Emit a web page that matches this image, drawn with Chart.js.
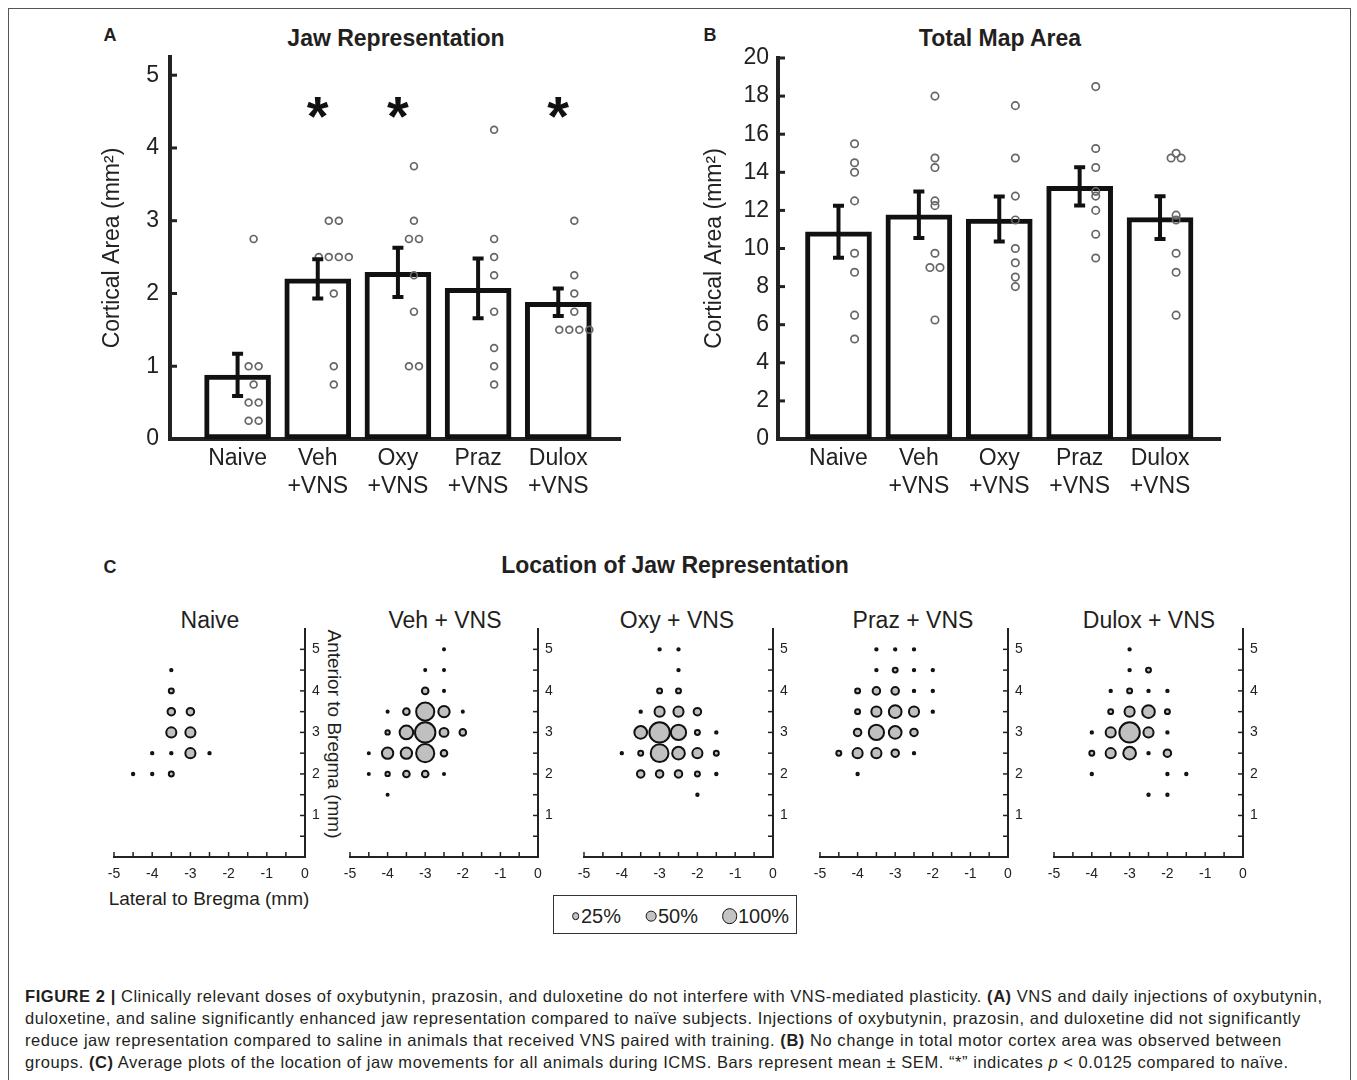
<!DOCTYPE html>
<html>
<head>
<meta charset="utf-8">
<title>Figure 2</title>
<script src="https://cdn.jsdelivr.net/npm/chart.js@4.4.1/dist/chart.umd.min.js"></script>
<style>
  html, body { margin: 0; padding: 0; background: #fff; }
  body { width: 1357px; height: 1080px; position: relative; overflow: hidden;
         font-family: "Liberation Sans", Arial, sans-serif; color: #231f20; }
  canvas { position: absolute; }
  .frame { position: absolute; left: 8px; top: 8px; width: 1341px; height: 1100px; border: 1px solid #555; }
  .t { position: absolute; transform: translate(-50%, -50%); white-space: nowrap; }
  .letter { font-weight: bold; font-size: 18px; }
  .title { font-weight: bold; font-size: 23px; }
  .sub { font-size: 23px; }
  .axt { font-size: 19px; }
  .legend { position: absolute; left: 553px; top: 895px; width: 242px; height: 37px; border: 1.5px solid #333; }
  .dot { position: absolute; box-sizing: border-box; border: 1.5px solid #111; background: #c3c3c3; border-radius: 50%; transform: translate(-50%, -50%); }
  .lt { position: absolute; font-size: 20px; transform: translateY(-50%); }
  .caption { position: absolute; left: 25px; top: 985px; font-size: 16.5px; letter-spacing: 0.55px;
             line-height: 22px; white-space: nowrap; }
</style>
</head>
<body>
<div class="frame"></div>

<div class="t letter" style="left:110px; top:35px;">A</div>
<div class="t title" style="left:396px; top:38px;">Jaw Representation</div>
<div class="t letter" style="left:710px; top:35px;">B</div>
<div class="t title" style="left:1000px; top:38px;">Total Map Area</div>
<div class="t letter" style="left:110px; top:567px;">C</div>
<div class="t title" style="left:675px; top:565px;">Location of Jaw Representation</div>

<canvas id="jaw" width="540" height="480" style="left:90px; top:29px;"></canvas>
<canvas id="map" width="540" height="480" style="left:690px; top:30px;"></canvas>

<div id="siteTitles"></div>
<div class="t axt" style="left:334px; top:734px; transform:translate(-50%,-50%) rotate(90deg);">Anterior to Bregma (mm)</div>
<div class="t axt" style="left:209px; top:899px;">Lateral to Bregma (mm)</div>

<div class="legend"></div>
<div class="dot" style="left:575.5px; top:916px; width:7.7px; height:7.7px;"></div>
<div class="lt" style="left:581px; top:916px;">25%</div>
<div class="dot" style="left:651.3px; top:916px; width:10.7px; height:10.7px;"></div>
<div class="lt" style="left:658px; top:916px;">50%</div>
<div class="dot" style="left:729.5px; top:916px; width:15.7px; height:15.7px;"></div>
<div class="lt" style="left:738px; top:916px;">100%</div>

<div class="caption">
<b>FIGURE 2 |</b> Clinically relevant doses of oxybutynin, prazosin, and duloxetine do not interfere with VNS-mediated plasticity. <b>(A)</b> VNS and daily injections of oxybutynin,<br>
duloxetine, and saline significantly enhanced jaw representation compared to naïve subjects. Injections of oxybutynin, prazosin, and duloxetine did not significantly<br>
reduce jaw representation compared to saline in animals that received VNS paired with training. <b>(B)</b> No change in total motor cortex area was observed between<br>
groups. <b>(C)</b> Average plots of the location of jaw movements for all animals during ICMS. Bars represent mean ± SEM. “*” indicates <i>p</i> &lt; 0.0125 compared to naïve.
</div>

<script>
// --- data ---
const groupLabels = [["Naive"], ["Veh", "+VNS"], ["Oxy", "+VNS"], ["Praz", "+VNS"], ["Dulox", "+VNS"]];

// A: jaw representation (mm2)
const jawMean = [0.88, 2.2, 2.29, 2.07, 1.88];
const jawSem = [0.29, 0.27, 0.34, 0.41, 0.19];
const jawSig = [null, 4.6, 4.6, null, 4.6];
const jawPoints = [
  [2.75, 1, 1, 0.75, 0.5, 0.5, 0.25, 0.25],
  [3, 3, 2.5, 2.5, 2.5, 2.5, 2, 1, 0.75],
  [3.75, 3, 2.75, 2.75, 2.25, 1.75, 1, 1],
  [4.25, 2.75, 2.5, 2.25, 1.75, 1.25, 1, 0.75],
  [3, 2.25, 2, 1.75, 1.5, 1.5, 1.5, 1.5]
];
const jawTicks = [0, 1, 2, 3, 4, 5];

// B: total map area (mm2)
const mapMean = [10.88, 11.77, 11.55, 13.26, 11.62];
const mapSem = [1.36, 1.22, 1.18, 1.0, 1.12];
const mapPoints = [
  [15.5, 14.5, 14, 12.5, 9.75, 8.75, 6.5, 5.25],
  [18, 14.75, 14.25, 12.5, 12.25, 9.75, 9, 9, 6.25],
  [17.5, 14.75, 12.75, 11.5, 10, 9.25, 8.5, 8],
  [18.5, 15.25, 14.25, 13, 12.75, 12, 10.75, 9.5],
  [15, 14.75, 14.75, 11.75, 11.5, 9.75, 8.75, 6.5]
];
const mapTicks = [0, 2, 4, 6, 8, 10, 12, 14, 16, 18, 20];

// C: jaw sites [lateral mm, anterior mm, % of animals]
const siteTitles = ["Naive", "Veh + VNS", "Oxy + VNS", "Praz + VNS", "Dulox + VNS"];
const sitesNaive = [
  [-3.5, 4.5, 12.5], [-3.5, 4, 25], [-3.5, 3.5, 37.5], [-3, 3.5, 37.5], [-3.5, 3, 50], [-3, 3, 50],
  [-4, 2.5, 12.5], [-3.5, 2.5, 12.5], [-3, 2.5, 50], [-2.5, 2.5, 12.5],
  [-4.5, 2, 12.5], [-4, 2, 12.5], [-3.5, 2, 25]
];
const sitesVeh = [
  [-2.5, 5, 11], [-3, 4.5, 11], [-2.5, 4.5, 11], [-3, 4, 33], [-2.5, 4, 11],
  [-4, 3.5, 11], [-3.5, 3.5, 33], [-3, 3.5, 89], [-2.5, 3.5, 56], [-2, 3.5, 11],
  [-4, 3, 22], [-3.5, 3, 67], [-3, 3, 100], [-2.5, 3, 44], [-2, 3, 33],
  [-4.5, 2.5, 11], [-4, 2.5, 56], [-3.5, 2.5, 56], [-3, 2.5, 89], [-2.5, 2.5, 33],
  [-4.5, 2, 11], [-4, 2, 22], [-3.5, 2, 33], [-3, 2, 33], [-2.5, 2, 11], [-4, 1.5, 11]
];
const sitesOxy = [
  [-3, 5, 12.5], [-2.5, 5, 12.5], [-2.5, 4.5, 12.5], [-3, 4, 25], [-2.5, 4, 25],
  [-3.5, 3.5, 12.5], [-3, 3.5, 50], [-2.5, 3.5, 50], [-2, 3.5, 37.5],
  [-3.5, 3, 62.5], [-3, 3, 100], [-2.5, 3, 75], [-2, 3, 25], [-1.5, 3, 12.5],
  [-4, 2.5, 12.5], [-3.5, 2.5, 25], [-3, 2.5, 87.5], [-2.5, 2.5, 62.5], [-2, 2.5, 50], [-1.5, 2.5, 25],
  [-3.5, 2, 37.5], [-3, 2, 37.5], [-2.5, 2, 37.5], [-2, 2, 25], [-1.5, 2, 12.5], [-2, 1.5, 12.5]
];
const sitesPraz = [
  [-3.5, 5, 12.5], [-3, 5, 12.5], [-2.5, 5, 12.5],
  [-3.5, 4.5, 12.5], [-3, 4.5, 25], [-2.5, 4.5, 12.5], [-2, 4.5, 12.5],
  [-4, 4, 25], [-3.5, 4, 37.5], [-3, 4, 37.5], [-2.5, 4, 12.5], [-2, 4, 12.5],
  [-4, 3.5, 25], [-3.5, 3.5, 50], [-3, 3.5, 62.5], [-2.5, 3.5, 50], [-2, 3.5, 12.5],
  [-4, 3, 37.5], [-3.5, 3, 75], [-3, 3, 62.5], [-2.5, 3, 37.5],
  [-4.5, 2.5, 25], [-4, 2.5, 50], [-3.5, 2.5, 50], [-3, 2.5, 37.5], [-2.5, 2.5, 12.5],
  [-4, 2, 12.5]
];
const sitesDulox = [
  [-3, 5, 12.5], [-3, 4.5, 12.5], [-2.5, 4.5, 25],
  [-3.5, 4, 12.5], [-3, 4, 25], [-2.5, 4, 12.5], [-2, 4, 12.5],
  [-3.5, 3.5, 25], [-3, 3.5, 50], [-2.5, 3.5, 62.5], [-2, 3.5, 25],
  [-4, 3, 12.5], [-3.5, 3, 50], [-3, 3, 100], [-2.5, 3, 50], [-2, 3, 12.5],
  [-4, 2.5, 25], [-3.5, 2.5, 50], [-3, 2.5, 62.5], [-2.5, 2.5, 12.5], [-2, 2.5, 37.5],
  [-4, 2, 12.5], [-2, 2, 12.5], [-1.5, 2, 12.5], [-2.5, 1.5, 12.5], [-2, 1.5, 12.5]
];
const lateralTicks = [-5, -4.5, -4, -3.5, -3, -2.5, -2, -1.5, -1, -0.5, 0];
const anteriorTicks = [0.5, 1, 1.5, 2, 2.5, 3, 3.5, 4, 4.5, 5];

// --- setup ---
Chart.defaults.font.family = '"Liberation Sans", Arial, sans-serif';
Chart.defaults.color = '#222';
Chart.defaults.animation = false;

// tick marks that point into the plot
const innerTicks = {
  id: 'innerTicks',
  afterDatasetsDraw(chart, args, o) {
    const ctx = chart.ctx;
    ctx.save();
    ctx.strokeStyle = o.color;
    ctx.lineWidth = o.width;
    o.axes.forEach(id => {
      const s = chart.scales[id];
      s.ticks.forEach(t => {
        const p = s.getPixelForValue(t.value);
        ctx.beginPath();
        if (s.isHorizontal()) { ctx.moveTo(p, s.top); ctx.lineTo(p, s.top - o.length); }
        else if (s.position === 'left') { ctx.moveTo(s.right, p); ctx.lineTo(s.right + o.length, p); }
        else { ctx.moveTo(s.left, p); ctx.lineTo(s.left - o.length, p); }
        ctx.stroke();
      });
    });
    ctx.restore();
  }
};

// error bars + significance stars
function errorBars(mean, sem, sig) {
  return {
    id: 'errorBars',
    afterDatasetsDraw(chart) {
      const { ctx, scales: { x, y } } = chart;
      ctx.save();
      ctx.strokeStyle = '#111';
      ctx.lineWidth = 4;
      mean.forEach((m, i) => {
        const px = x.getPixelForValue(i + 1);
        const top = y.getPixelForValue(m + sem[i]);
        const bot = y.getPixelForValue(m - sem[i]);
        ctx.beginPath();
        ctx.moveTo(px, top); ctx.lineTo(px, bot);
        ctx.moveTo(px - 5.5, top); ctx.lineTo(px + 5.5, top);
        ctx.moveTo(px - 5.5, bot); ctx.lineTo(px + 5.5, bot);
        ctx.stroke();
      });
      if (sig) {
        ctx.fillStyle = '#111';
        ctx.font = 'bold 56px "Liberation Sans", Arial, sans-serif';
        ctx.textAlign = 'center';
        ctx.textBaseline = 'alphabetic';
        sig.forEach((s, i) => {
          if (s == null) return;
          ctx.fillText('*', x.getPixelForValue(i + 1), y.getPixelForValue(s) + 31);
        });
      }
      ctx.restore();
    }
  };
}

// repeated values sit side by side
function spread(vals, step) {
  const count = {}, seen = {};
  vals.forEach(v => { count[v] = (count[v] || 0) + 1; });
  return vals.map(v => {
    seen[v] = (seen[v] || 0) + 1;
    return { off: (seen[v] - 1 - (count[v] - 1) / 2) * step, y: v };
  });
}

function barPanel(id, mean, sem, points, sig, yTicks, yMax, xMin, xMax, g) {
  const dots = [];
  points.forEach((vals, i) => spread(vals, 0.125).forEach(p => dots.push({ x: i + 1.2 + p.off, y: p.y })));

  new Chart(document.getElementById(id), {
    type: 'bar',
    data: {
      datasets: [
        { type: 'scatter', data: dots, pointRadius: g.dot, borderWidth: 1.7,
          borderColor: '#666', backgroundColor: 'rgba(255,255,255,0)', order: 1 },
        { type: 'bar', data: mean.map((v, i) => ({ x: i + 1, y: v })), backgroundColor: '#fff',
          borderColor: '#111', borderWidth: 5, borderSkipped: false, barThickness: 66, order: 2 }
      ]
    },
    options: {
      responsive: false,
      animation: false,
      layout: { padding: g.pad },
      plugins: {
        legend: { display: false },
        tooltip: { enabled: false },
        innerTicks: { axes: ['y'], length: 7, width: 3, color: '#222' }
      },
      scales: {
        x: {
          type: 'linear', min: xMin, max: xMax, offset: false,
          afterBuildTicks: s => { s.ticks = groupLabels.map((_, i) => ({ value: i + 1 })); },
          ticks: { callback: v => groupLabels[v - 1], font: { size: 23, lineHeight: 1.22 },
                   padding: 6, maxRotation: 0, autoSkip: false },
          grid: { display: false, drawTicks: false, offset: false },
          border: { width: 4, color: '#222' },
          afterFit: s => { s.height = g.xH; }
        },
        y: {
          min: 0, max: yMax,
          afterBuildTicks: s => { s.ticks = yTicks.map(v => ({ value: v })); },
          ticks: { font: { size: 23 }, padding: g.tickPad, autoSkip: false },
          grid: { display: false, drawTicks: false },
          border: { width: 4, color: '#222' },
          title: { display: true, text: 'Cortical Area (mm²)', font: { size: 23 }, color: '#222',
                   padding: { top: g.titlePad, bottom: 0 } },
          afterFit: s => { s.width = g.yW; }
        }
      }
    },
    plugins: [innerTicks, errorBars(mean, sem, sig)]
  });
}

barPanel('jaw', jawMean, jawSem, jawPoints, jawSig, jawTicks, 5.25, 0.157, 5.77,
  { pad: { top: 28, left: 0, right: 10, bottom: 0 }, xH: 70, yW: 80, tickPad: 11, titlePad: 9, dot: 3.4 });
barPanel('map', mapMean, mapSem, mapPoints, null, mapTicks, 20, 0.2475, 5.746,
  { pad: { top: 28, left: 0, right: 10, bottom: 0 }, xH: 71, yW: 88, tickPad: 9, titlePad: 11, dot: 3.7 });

// C: five site maps
const siteSets = [sitesNaive, sitesVeh, sitesOxy, sitesPraz, sitesDulox];
const siteLeft = [114, 350, 584, 820, 1054];
const siteWidth = [191, 188, 189, 188, 189];
const siteCenter = [210, 445, 677, 913, 1149];
const bubbleR = pct => Math.max(0.9, 10.3 * pct / 100 - 0.1);

siteSets.forEach((sites, i) => {
  const c = document.createElement('canvas');
  c.width = 20 + siteWidth[i] + 30;
  c.height = 300;
  c.style.left = (siteLeft[i] - 20) + 'px';
  c.style.top = '600px';
  document.body.appendChild(c);

  const t = document.createElement('div');
  t.className = 't sub';
  t.style.left = siteCenter[i] + 'px';
  t.style.top = '620px';
  t.textContent = siteTitles[i];
  document.getElementById('siteTitles').appendChild(t);

  new Chart(c, {
    type: 'bubble',
    data: {
      datasets: [{
        data: sites.map(s => ({ x: s[0], y: s[1], r: bubbleR(s[2]) })),
        backgroundColor: '#c0c0c0', borderColor: '#111', borderWidth: 2
      }]
    },
    options: {
      responsive: false,
      animation: false,
      layout: { padding: { top: 29, left: 20, right: 0, bottom: 13 } },
      plugins: {
        legend: { display: false },
        tooltip: { enabled: false },
        innerTicks: { axes: ['x', 'y'], length: 5, width: 1.5, color: '#222' }
      },
      scales: {
        x: {
          type: 'linear', min: -5, max: 0,
          afterBuildTicks: s => { s.ticks = lateralTicks.map(v => ({ value: v })); },
          ticks: { callback: v => Number.isInteger(v) ? String(v) : '', font: { size: 14 },
                   padding: 9, maxRotation: 0, autoSkip: false },
          grid: { display: false, drawTicks: false },
          border: { width: 2, color: '#222' },
          afterFit: s => { s.height = 30; }
        },
        y: {
          type: 'linear', position: 'right', min: 0, max: 5.49,
          afterBuildTicks: s => { s.ticks = anteriorTicks.map(v => ({ value: v })); },
          ticks: { callback: v => Number.isInteger(v) ? String(v) : '', font: { size: 14 },
                   padding: 7, autoSkip: false },
          grid: { display: false, drawTicks: false },
          border: { width: 2, color: '#222' },
          afterFit: s => { s.width = 30; }
        }
      }
    },
    plugins: [innerTicks]
  });
});
</script>
</body>
</html>
